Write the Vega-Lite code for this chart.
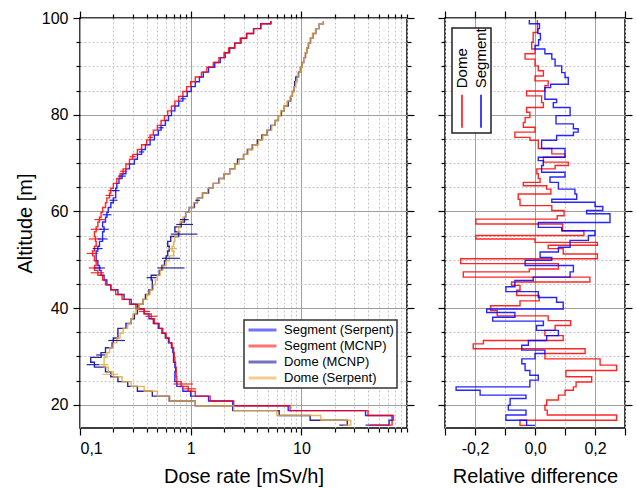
{
  "$schema": "https://vega.github.io/schema/vega-lite/v6.json",
  "background": "white",
  "padding": {"left": 14, "top": 9, "right": 3, "bottom": 0},
  "config": {
    "font": "Liberation Sans",
    "view": {"stroke": "#000", "strokeWidth": 1.5},
    "axis": {"domain": false, "tickColor": "#000", "tickWidth": 1.2, "labelFont": "Liberation Sans", "labelFontSize": 16, "labelColor": "#000", "titleFont": "Liberation Sans", "titleFontSize": 20, "titleFontWeight": "normal", "titleColor": "#000", "gridColor": "#a0a0a0", "gridWidth": 1, "labelPadding": 5},
    "legend": {"labelFont": "Liberation Sans", "labelColor": "#000"}
  },
  "datasets": {
    "dose": [
      {"a": 15.8, "Segment (Serpent)": 38, "Segment (MCNP)": 41, "Dome (MCNP)": 22, "Dome (Serpent)": 24},
      {"a": 15.8, "Segment (Serpent)": 62, "Segment (MCNP)": 66, "Dome (MCNP)": 26, "Dome (Serpent)": 28},
      {"a": 16.8, "Segment (Serpent)": 66, "Segment (MCNP)": 68, "Dome (MCNP)": 12, "Dome (Serpent)": 15},
      {"a": 17.8, "Segment (Serpent)": 38, "Segment (MCNP)": 40, "Dome (MCNP)": 6.3, "Dome (Serpent)": 6.0},
      {"a": 18.8, "Segment (Serpent)": 7.6, "Segment (MCNP)": 7.9, "Dome (MCNP)": 2.4, "Dome (Serpent)": 2.45},
      {"a": 19.8, "Segment (Serpent)": 2.4, "Segment (MCNP)": 2.45, "Dome (MCNP)": 1.1, "Dome (Serpent)": 1.1},
      {"a": 20.8, "Segment (Serpent)": 1.45, "Segment (MCNP)": 1.5, "Dome (MCNP)": 0.64, "Dome (Serpent)": 0.65},
      {"a": 21.8, "Segment (Serpent)": 1.0, "Segment (MCNP)": 1.1, "Dome (MCNP)": 0.45, "Dome (Serpent)": 0.5},
      {"a": 22.8, "Segment (Serpent)": 0.85, "Segment (MCNP)": 0.95, "Dome (MCNP)": 0.33, "Dome (Serpent)": 0.38},
      {"a": 23.8, "Segment (Serpent)": 0.75, "Segment (MCNP)": 0.82, "Dome (MCNP)": 0.27, "Dome (Serpent)": 0.29},
      {"a": 24.8, "Segment (Serpent)": 0.72, "Segment (MCNP)": 0.75, "Dome (MCNP)": 0.22, "Dome (Serpent)": 0.24},
      {"a": 25.8, "Segment (Serpent)": 0.72, "Segment (MCNP)": 0.74, "Dome (MCNP)": 0.19, "Dome (Serpent)": 0.2},
      {"a": 26.8, "Segment (Serpent)": 0.73, "Segment (MCNP)": 0.74, "Dome (MCNP)": 0.17, "Dome (Serpent)": 0.18},
      {"a": 27.8, "Segment (Serpent)": 0.72, "Segment (MCNP)": 0.73, "Dome (MCNP)": 0.135, "Dome (Serpent)": 0.165},
      {"a": 28.8, "Segment (Serpent)": 0.7, "Segment (MCNP)": 0.72, "Dome (MCNP)": 0.125, "Dome (Serpent)": 0.165},
      {"a": 29.8, "Segment (Serpent)": 0.7, "Segment (MCNP)": 0.71, "Dome (MCNP)": 0.155, "Dome (Serpent)": 0.175},
      {"a": 30.8, "Segment (Serpent)": 0.69, "Segment (MCNP)": 0.7, "Dome (MCNP)": 0.17, "Dome (Serpent)": 0.185},
      {"a": 31.8, "Segment (Serpent)": 0.67, "Segment (MCNP)": 0.68, "Dome (MCNP)": 0.195, "Dome (Serpent)": 0.2},
      {"a": 32.8, "Segment (Serpent)": 0.63, "Segment (MCNP)": 0.64, "Dome (MCNP)": 0.2, "Dome (Serpent)": 0.215},
      {"a": 33.8, "Segment (Serpent)": 0.59, "Segment (MCNP)": 0.6, "Dome (MCNP)": 0.22, "Dome (Serpent)": 0.23},
      {"a": 34.8, "Segment (Serpent)": 0.55, "Segment (MCNP)": 0.56, "Dome (MCNP)": 0.22, "Dome (Serpent)": 0.245},
      {"a": 35.8, "Segment (Serpent)": 0.51, "Segment (MCNP)": 0.52, "Dome (MCNP)": 0.26, "Dome (Serpent)": 0.27},
      {"a": 36.8, "Segment (Serpent)": 0.46, "Segment (MCNP)": 0.47, "Dome (MCNP)": 0.29, "Dome (Serpent)": 0.29},
      {"a": 37.8, "Segment (Serpent)": 0.42, "Segment (MCNP)": 0.44, "Dome (MCNP)": 0.31, "Dome (Serpent)": 0.3},
      {"a": 38.8, "Segment (Serpent)": 0.38, "Segment (MCNP)": 0.38, "Dome (MCNP)": 0.33, "Dome (Serpent)": 0.32},
      {"a": 39.8, "Segment (Serpent)": 0.33, "Segment (MCNP)": 0.32, "Dome (MCNP)": 0.34, "Dome (Serpent)": 0.34},
      {"a": 40.8, "Segment (Serpent)": 0.29, "Segment (MCNP)": 0.28, "Dome (MCNP)": 0.37, "Dome (Serpent)": 0.37},
      {"a": 41.8, "Segment (Serpent)": 0.25, "Segment (MCNP)": 0.24, "Dome (MCNP)": 0.39, "Dome (Serpent)": 0.4},
      {"a": 42.8, "Segment (Serpent)": 0.22, "Segment (MCNP)": 0.21, "Dome (MCNP)": 0.42, "Dome (Serpent)": 0.43},
      {"a": 43.8, "Segment (Serpent)": 0.19, "Segment (MCNP)": 0.19, "Dome (MCNP)": 0.45, "Dome (Serpent)": 0.46},
      {"a": 44.8, "Segment (Serpent)": 0.175, "Segment (MCNP)": 0.17, "Dome (MCNP)": 0.45, "Dome (Serpent)": 0.48},
      {"a": 45.8, "Segment (Serpent)": 0.165, "Segment (MCNP)": 0.16, "Dome (MCNP)": 0.44, "Dome (Serpent)": 0.5},
      {"a": 46.8, "Segment (Serpent)": 0.155, "Segment (MCNP)": 0.145, "Dome (MCNP)": 0.52, "Dome (Serpent)": 0.53},
      {"a": 47.8, "Segment (Serpent)": 0.15, "Segment (MCNP)": 0.135, "Dome (MCNP)": 0.55, "Dome (Serpent)": 0.56},
      {"a": 48.8, "Segment (Serpent)": 0.145, "Segment (MCNP)": 0.14, "Dome (MCNP)": 0.58, "Dome (Serpent)": 0.6},
      {"a": 49.8, "Segment (Serpent)": 0.14, "Segment (MCNP)": 0.135, "Dome (MCNP)": 0.6, "Dome (Serpent)": 0.64},
      {"a": 50.8, "Segment (Serpent)": 0.14, "Segment (MCNP)": 0.13, "Dome (MCNP)": 0.62, "Dome (Serpent)": 0.7},
      {"a": 51.8, "Segment (Serpent)": 0.145, "Segment (MCNP)": 0.135, "Dome (MCNP)": 0.64, "Dome (Serpent)": 0.68},
      {"a": 52.8, "Segment (Serpent)": 0.15, "Segment (MCNP)": 0.14, "Dome (MCNP)": 0.62, "Dome (Serpent)": 0.7},
      {"a": 53.8, "Segment (Serpent)": 0.16, "Segment (MCNP)": 0.138, "Dome (MCNP)": 0.66, "Dome (Serpent)": 0.72},
      {"a": 54.8, "Segment (Serpent)": 0.16, "Segment (MCNP)": 0.135, "Dome (MCNP)": 0.78, "Dome (Serpent)": 0.76},
      {"a": 55.8, "Segment (Serpent)": 0.165, "Segment (MCNP)": 0.14, "Dome (MCNP)": 0.72, "Dome (Serpent)": 0.78},
      {"a": 56.8, "Segment (Serpent)": 0.16, "Segment (MCNP)": 0.145, "Dome (MCNP)": 0.82, "Dome (Serpent)": 0.8},
      {"a": 57.8, "Segment (Serpent)": 0.17, "Segment (MCNP)": 0.15, "Dome (MCNP)": 0.88, "Dome (Serpent)": 0.85},
      {"a": 58.8, "Segment (Serpent)": 0.175, "Segment (MCNP)": 0.155, "Dome (MCNP)": 0.9, "Dome (Serpent)": 0.9},
      {"a": 59.8, "Segment (Serpent)": 0.18, "Segment (MCNP)": 0.16, "Dome (MCNP)": 0.97, "Dome (Serpent)": 0.98},
      {"a": 60.8, "Segment (Serpent)": 0.19, "Segment (MCNP)": 0.17, "Dome (MCNP)": 1.08, "Dome (Serpent)": 1.06},
      {"a": 61.8, "Segment (Serpent)": 0.2, "Segment (MCNP)": 0.175, "Dome (MCNP)": 1.15, "Dome (Serpent)": 1.15},
      {"a": 62.8, "Segment (Serpent)": 0.21, "Segment (MCNP)": 0.185, "Dome (MCNP)": 1.28, "Dome (Serpent)": 1.27},
      {"a": 63.8, "Segment (Serpent)": 0.21, "Segment (MCNP)": 0.19, "Dome (MCNP)": 1.45, "Dome (Serpent)": 1.42},
      {"a": 64.8, "Segment (Serpent)": 0.215, "Segment (MCNP)": 0.2, "Dome (MCNP)": 1.6, "Dome (Serpent)": 1.6},
      {"a": 65.8, "Segment (Serpent)": 0.225, "Segment (MCNP)": 0.215, "Dome (MCNP)": 1.8, "Dome (Serpent)": 1.82},
      {"a": 66.8, "Segment (Serpent)": 0.24, "Segment (MCNP)": 0.23, "Dome (MCNP)": 2.0, "Dome (Serpent)": 2.0},
      {"a": 67.8, "Segment (Serpent)": 0.26, "Segment (MCNP)": 0.245, "Dome (MCNP)": 2.25, "Dome (Serpent)": 2.25},
      {"a": 68.8, "Segment (Serpent)": 0.28, "Segment (MCNP)": 0.26, "Dome (MCNP)": 2.5, "Dome (Serpent)": 2.5},
      {"a": 69.8, "Segment (Serpent)": 0.31, "Segment (MCNP)": 0.28, "Dome (MCNP)": 2.65, "Dome (Serpent)": 2.75},
      {"a": 70.8, "Segment (Serpent)": 0.33, "Segment (MCNP)": 0.3, "Dome (MCNP)": 3.0, "Dome (Serpent)": 3.0},
      {"a": 71.8, "Segment (Serpent)": 0.36, "Segment (MCNP)": 0.33, "Dome (MCNP)": 3.25, "Dome (Serpent)": 3.3},
      {"a": 72.8, "Segment (Serpent)": 0.39, "Segment (MCNP)": 0.36, "Dome (MCNP)": 3.6, "Dome (Serpent)": 3.65},
      {"a": 73.8, "Segment (Serpent)": 0.43, "Segment (MCNP)": 0.4, "Dome (MCNP)": 4.0, "Dome (Serpent)": 4.1},
      {"a": 74.8, "Segment (Serpent)": 0.47, "Segment (MCNP)": 0.43, "Dome (MCNP)": 4.4, "Dome (Serpent)": 4.5},
      {"a": 75.8, "Segment (Serpent)": 0.51, "Segment (MCNP)": 0.46, "Dome (MCNP)": 4.9, "Dome (Serpent)": 4.9},
      {"a": 76.8, "Segment (Serpent)": 0.54, "Segment (MCNP)": 0.5, "Dome (MCNP)": 5.3, "Dome (Serpent)": 5.4},
      {"a": 77.8, "Segment (Serpent)": 0.59, "Segment (MCNP)": 0.54, "Dome (MCNP)": 5.8, "Dome (Serpent)": 5.8},
      {"a": 78.8, "Segment (Serpent)": 0.63, "Segment (MCNP)": 0.58, "Dome (MCNP)": 6.2, "Dome (Serpent)": 6.2},
      {"a": 79.8, "Segment (Serpent)": 0.67, "Segment (MCNP)": 0.62, "Dome (MCNP)": 6.6, "Dome (Serpent)": 6.5},
      {"a": 80.8, "Segment (Serpent)": 0.72, "Segment (MCNP)": 0.67, "Dome (MCNP)": 7.0, "Dome (Serpent)": 7.0},
      {"a": 81.8, "Segment (Serpent)": 0.78, "Segment (MCNP)": 0.72, "Dome (MCNP)": 7.6, "Dome (Serpent)": 7.4},
      {"a": 82.8, "Segment (Serpent)": 0.85, "Segment (MCNP)": 0.78, "Dome (MCNP)": 8.0, "Dome (Serpent)": 7.9},
      {"a": 83.8, "Segment (Serpent)": 0.93, "Segment (MCNP)": 0.85, "Dome (MCNP)": 8.3, "Dome (Serpent)": 8.3},
      {"a": 84.8, "Segment (Serpent)": 1.01, "Segment (MCNP)": 0.92, "Dome (MCNP)": 8.6, "Dome (Serpent)": 8.6},
      {"a": 85.8, "Segment (Serpent)": 1.1, "Segment (MCNP)": 1.0, "Dome (MCNP)": 8.7, "Dome (Serpent)": 8.9},
      {"a": 86.8, "Segment (Serpent)": 1.2, "Segment (MCNP)": 1.1, "Dome (MCNP)": 8.9, "Dome (Serpent)": 9.2},
      {"a": 87.8, "Segment (Serpent)": 1.3, "Segment (MCNP)": 1.25, "Dome (MCNP)": 9.4, "Dome (Serpent)": 9.5},
      {"a": 88.8, "Segment (Serpent)": 1.45, "Segment (MCNP)": 1.4, "Dome (MCNP)": 9.8, "Dome (Serpent)": 9.8},
      {"a": 89.8, "Segment (Serpent)": 1.65, "Segment (MCNP)": 1.6, "Dome (MCNP)": 10.2, "Dome (Serpent)": 10.2},
      {"a": 90.8, "Segment (Serpent)": 1.85, "Segment (MCNP)": 1.8, "Dome (MCNP)": 10.5, "Dome (Serpent)": 10.5},
      {"a": 91.8, "Segment (Serpent)": 2.05, "Segment (MCNP)": 2.0, "Dome (MCNP)": 10.9, "Dome (Serpent)": 10.8},
      {"a": 92.8, "Segment (Serpent)": 2.25, "Segment (MCNP)": 2.2, "Dome (MCNP)": 11.2, "Dome (Serpent)": 11.2},
      {"a": 93.8, "Segment (Serpent)": 2.5, "Segment (MCNP)": 2.5, "Dome (MCNP)": 11.6, "Dome (Serpent)": 11.5},
      {"a": 94.8, "Segment (Serpent)": 2.85, "Segment (MCNP)": 2.8, "Dome (MCNP)": 12.1, "Dome (Serpent)": 12.0},
      {"a": 95.8, "Segment (Serpent)": 3.2, "Segment (MCNP)": 3.2, "Dome (MCNP)": 12.7, "Dome (Serpent)": 12.6},
      {"a": 96.8, "Segment (Serpent)": 3.7, "Segment (MCNP)": 3.7, "Dome (MCNP)": 13.5, "Dome (Serpent)": 13.4},
      {"a": 97.8, "Segment (Serpent)": 4.3, "Segment (MCNP)": 4.3, "Dome (MCNP)": 14.5, "Dome (Serpent)": 14.5},
      {"a": 98.8, "Segment (Serpent)": 5.3, "Segment (MCNP)": 5.3, "Dome (MCNP)": 15.8, "Dome (Serpent)": 15.8},
      {"a": 99.4, "Segment (Serpent)": 5.3, "Segment (MCNP)": 5.3, "Dome (MCNP)": 15.8, "Dome (Serpent)": 15.8}
    ],
    "err": [
      {"s": "Segment (MCNP)", "a": 23.3, "lo": 0.86, "hi": 1.12},
      {"s": "Segment (MCNP)", "a": 24.3, "lo": 0.7, "hi": 1.05},
      {"s": "Segment (MCNP)", "a": 38.3, "lo": 0.39, "hi": 0.5},
      {"s": "Segment (MCNP)", "a": 39.3, "lo": 0.34, "hi": 0.43},
      {"s": "Segment (MCNP)", "a": 47.3, "lo": 0.125, "hi": 0.165},
      {"s": "Segment (MCNP)", "a": 48.3, "lo": 0.12, "hi": 0.155},
      {"s": "Segment (MCNP)", "a": 51.3, "lo": 0.115, "hi": 0.145},
      {"s": "Segment (MCNP)", "a": 54.3, "lo": 0.12, "hi": 0.155},
      {"s": "Segment (MCNP)", "a": 56.3, "lo": 0.125, "hi": 0.158},
      {"s": "Segment (MCNP)", "a": 58.3, "lo": 0.135, "hi": 0.168},
      {"s": "Segment (MCNP)", "a": 63.3, "lo": 0.17, "hi": 0.2},
      {"s": "Segment (MCNP)", "a": 64.3, "lo": 0.18, "hi": 0.215},
      {"s": "Segment (MCNP)", "a": 68.3, "lo": 0.23, "hi": 0.265},
      {"s": "Segment (MCNP)", "a": 71.3, "lo": 0.28, "hi": 0.32},
      {"s": "Segment (MCNP)", "a": 75.3, "lo": 0.41, "hi": 0.455},
      {"s": "Segment (Serpent)", "a": 48.3, "lo": 0.135, "hi": 0.168},
      {"s": "Segment (Serpent)", "a": 52.3, "lo": 0.13, "hi": 0.16},
      {"s": "Segment (Serpent)", "a": 54.3, "lo": 0.145, "hi": 0.178},
      {"s": "Segment (Serpent)", "a": 56.3, "lo": 0.15, "hi": 0.182},
      {"s": "Segment (Serpent)", "a": 59.3, "lo": 0.16, "hi": 0.192},
      {"s": "Segment (Serpent)", "a": 62.3, "lo": 0.185, "hi": 0.218},
      {"s": "Segment (Serpent)", "a": 64.3, "lo": 0.195, "hi": 0.228},
      {"s": "Segment (Serpent)", "a": 67.3, "lo": 0.22, "hi": 0.26},
      {"s": "Segment (Serpent)", "a": 72.3, "lo": 0.34, "hi": 0.38},
      {"s": "Segment (Serpent)", "a": 77.3, "lo": 0.51, "hi": 0.57},
      {"s": "Segment (Serpent)", "a": 83.3, "lo": 0.81, "hi": 0.9},
      {"s": "Dome (MCNP)", "a": 28.3, "lo": 0.115, "hi": 0.15},
      {"s": "Dome (MCNP)", "a": 30.3, "lo": 0.14, "hi": 0.17},
      {"s": "Dome (MCNP)", "a": 33.3, "lo": 0.18, "hi": 0.255},
      {"s": "Dome (MCNP)", "a": 46.3, "lo": 0.4, "hi": 0.49},
      {"s": "Dome (MCNP)", "a": 48.3, "lo": 0.5, "hi": 0.88},
      {"s": "Dome (MCNP)", "a": 50.3, "lo": 0.55, "hi": 0.8},
      {"s": "Dome (MCNP)", "a": 55.3, "lo": 0.66, "hi": 1.15},
      {"s": "Dome (MCNP)", "a": 57.3, "lo": 0.74, "hi": 1.05},
      {"s": "Dome (MCNP)", "a": 58.3, "lo": 0.8, "hi": 0.96},
      {"s": "Dome (MCNP)", "a": 62.3, "lo": 1.1, "hi": 1.21},
      {"s": "Dome (Serpent)", "a": 26.3, "lo": 0.16, "hi": 0.22},
      {"s": "Dome (Serpent)", "a": 28.3, "lo": 0.15, "hi": 0.18},
      {"s": "Dome (Serpent)", "a": 52.3, "lo": 0.62, "hi": 0.75}
    ],
    "rel": [
      {"s": "Dome", "a": 15.75, "v": -0.028},
      {"s": "Dome", "a": 15.75, "v": -0.05},
      {"s": "Dome", "a": 16.8, "v": 0.272},
      {"s": "Dome", "a": 17.9, "v": 0.041},
      {"s": "Dome", "a": 18.9, "v": 0.033},
      {"s": "Dome", "a": 19.9, "v": 0.039},
      {"s": "Dome", "a": 21.0, "v": 0.078},
      {"s": "Dome", "a": 22.0, "v": 0.1},
      {"s": "Dome", "a": 23.0, "v": 0.128},
      {"s": "Dome", "a": 23.7, "v": 0.137},
      {"s": "Dome", "a": 24.7, "v": 0.189},
      {"s": "Dome", "a": 25.8, "v": 0.103},
      {"s": "Dome", "a": 27.1, "v": 0.272},
      {"s": "Dome", "a": 28.2, "v": 0.217},
      {"s": "Dome", "a": 29.5, "v": 0.033},
      {"s": "Dome", "a": 30.6, "v": 0.167},
      {"s": "Dome", "a": 31.6, "v": -0.206},
      {"s": "Dome", "a": 32.6, "v": -0.172},
      {"s": "Dome", "a": 33.3, "v": 0.094},
      {"s": "Dome", "a": 34.3, "v": 0.033},
      {"s": "Dome", "a": 35.4, "v": 0.067},
      {"s": "Dome", "a": 36.4, "v": 0.119},
      {"s": "Dome", "a": 37.4, "v": 0.044},
      {"s": "Dome", "a": 38.4, "v": -0.126},
      {"s": "Dome", "a": 39.5, "v": -0.148},
      {"s": "Dome", "a": 40.5, "v": -0.05},
      {"s": "Dome", "a": 41.5, "v": 0.014},
      {"s": "Dome", "a": 42.6, "v": -0.061},
      {"s": "Dome", "a": 43.7, "v": -0.05},
      {"s": "Dome", "a": 44.7, "v": -0.078},
      {"s": "Dome", "a": 45.4, "v": 0.183},
      {"s": "Dome", "a": 46.4, "v": -0.239},
      {"s": "Dome", "a": 47.5, "v": -0.019},
      {"s": "Dome", "a": 48.1, "v": 0.078},
      {"s": "Dome", "a": 49.2, "v": -0.248},
      {"s": "Dome", "a": 50.2, "v": 0.208},
      {"s": "Dome", "a": 51.2, "v": 0.094},
      {"s": "Dome", "a": 52.3, "v": 0.044},
      {"s": "Dome", "a": 53.0, "v": 0.208},
      {"s": "Dome", "a": 53.6, "v": 0.0},
      {"s": "Dome", "a": 54.3, "v": -0.197},
      {"s": "Dome", "a": 55.0, "v": 0.163},
      {"s": "Dome", "a": 56.0, "v": 0.092},
      {"s": "Dome", "a": 57.4, "v": -0.197},
      {"s": "Dome", "a": 58.4, "v": 0.074},
      {"s": "Dome", "a": 59.1, "v": 0.097},
      {"s": "Dome", "a": 60.2, "v": 0.056},
      {"s": "Dome", "a": 61.2, "v": -0.05},
      {"s": "Dome", "a": 62.5, "v": -0.056},
      {"s": "Dome", "a": 63.6, "v": 0.053},
      {"s": "Dome", "a": 64.6, "v": 0.039},
      {"s": "Dome", "a": 65.3, "v": -0.039},
      {"s": "Dome", "a": 66.0, "v": 0.017},
      {"s": "Dome", "a": 66.8, "v": 0.011},
      {"s": "Dome", "a": 67.8, "v": 0.006},
      {"s": "Dome", "a": 68.8, "v": 0.067},
      {"s": "Dome", "a": 69.5, "v": 0.111},
      {"s": "Dome", "a": 70.2, "v": 0.028},
      {"s": "Dome", "a": 71.2, "v": 0.1},
      {"s": "Dome", "a": 71.9, "v": 0.056},
      {"s": "Dome", "a": 73.0, "v": 0.011},
      {"s": "Dome", "a": 74.7, "v": -0.017},
      {"s": "Dome", "a": 75.3, "v": -0.067},
      {"s": "Dome", "a": 76.4, "v": 0.0},
      {"s": "Dome", "a": 77.4, "v": -0.039},
      {"s": "Dome", "a": 78.4, "v": -0.033},
      {"s": "Dome", "a": 79.4, "v": -0.017},
      {"s": "Dome", "a": 80.5, "v": -0.028},
      {"s": "Dome", "a": 81.5, "v": 0.028},
      {"s": "Dome", "a": 82.5, "v": 0.022},
      {"s": "Dome", "a": 83.9, "v": -0.028},
      {"s": "Dome", "a": 84.9, "v": 0.033},
      {"s": "Dome", "a": 86.0, "v": 0.044},
      {"s": "Dome", "a": 87.0, "v": 0.0},
      {"s": "Dome", "a": 88.0, "v": 0.028},
      {"s": "Dome", "a": 89.1, "v": 0.011},
      {"s": "Dome", "a": 90.1, "v": 0.0},
      {"s": "Dome", "a": 91.5, "v": -0.033},
      {"s": "Dome", "a": 92.6, "v": 0.0},
      {"s": "Dome", "a": 93.6, "v": -0.011},
      {"s": "Dome", "a": 95.0, "v": -0.006},
      {"s": "Dome", "a": 97.0, "v": 0.008},
      {"s": "Dome", "a": 99.6, "v": 0.008},
      {"s": "Segment", "a": 15.75, "v": 0.0},
      {"s": "Segment", "a": 15.75, "v": -0.028},
      {"s": "Segment", "a": 16.8, "v": -0.097},
      {"s": "Segment", "a": 17.9, "v": -0.03},
      {"s": "Segment", "a": 18.9, "v": -0.089},
      {"s": "Segment", "a": 19.9, "v": -0.083},
      {"s": "Segment", "a": 21.3, "v": -0.03},
      {"s": "Segment", "a": 22.0, "v": -0.183},
      {"s": "Segment", "a": 23.0, "v": -0.263},
      {"s": "Segment", "a": 23.7, "v": -0.017},
      {"s": "Segment", "a": 25.1, "v": 0.011},
      {"s": "Segment", "a": 26.1, "v": -0.017},
      {"s": "Segment", "a": 27.1, "v": -0.033},
      {"s": "Segment", "a": 28.5, "v": -0.044},
      {"s": "Segment", "a": 29.5, "v": 0.0},
      {"s": "Segment", "a": 30.6, "v": 0.033},
      {"s": "Segment", "a": 31.3, "v": -0.044},
      {"s": "Segment", "a": 32.3, "v": -0.022},
      {"s": "Segment", "a": 33.3, "v": 0.039},
      {"s": "Segment", "a": 34.3, "v": 0.078},
      {"s": "Segment", "a": 35.4, "v": 0.005},
      {"s": "Segment", "a": 36.4, "v": 0.028},
      {"s": "Segment", "a": 37.3, "v": -0.141},
      {"s": "Segment", "a": 38.1, "v": -0.067},
      {"s": "Segment", "a": 39.1, "v": -0.161},
      {"s": "Segment", "a": 39.8, "v": 0.094},
      {"s": "Segment", "a": 41.2, "v": 0.072},
      {"s": "Segment", "a": 42.2, "v": 0.011},
      {"s": "Segment", "a": 43.4, "v": -0.097},
      {"s": "Segment", "a": 44.4, "v": -0.067},
      {"s": "Segment", "a": 45.7, "v": -0.006},
      {"s": "Segment", "a": 46.4, "v": 0.117},
      {"s": "Segment", "a": 47.5, "v": 0.128},
      {"s": "Segment", "a": 48.8, "v": -0.033},
      {"s": "Segment", "a": 49.9, "v": 0.056},
      {"s": "Segment", "a": 50.5, "v": 0.017},
      {"s": "Segment", "a": 51.6, "v": 0.078},
      {"s": "Segment", "a": 52.6, "v": 0.117},
      {"s": "Segment", "a": 54.0, "v": 0.178},
      {"s": "Segment", "a": 55.0, "v": 0.2},
      {"s": "Segment", "a": 56.0, "v": 0.089},
      {"s": "Segment", "a": 56.7, "v": 0.011},
      {"s": "Segment", "a": 57.7, "v": 0.25},
      {"s": "Segment", "a": 59.5, "v": 0.172},
      {"s": "Segment", "a": 60.2, "v": 0.226},
      {"s": "Segment", "a": 61.0, "v": 0.2},
      {"s": "Segment", "a": 61.9, "v": 0.056},
      {"s": "Segment", "a": 62.5, "v": 0.139},
      {"s": "Segment", "a": 63.6, "v": 0.133},
      {"s": "Segment", "a": 64.6, "v": 0.078},
      {"s": "Segment", "a": 66.0, "v": 0.05},
      {"s": "Segment", "a": 67.1, "v": 0.1},
      {"s": "Segment", "a": 68.1, "v": 0.022},
      {"s": "Segment", "a": 69.5, "v": 0.028},
      {"s": "Segment", "a": 70.5, "v": 0.011},
      {"s": "Segment", "a": 71.2, "v": 0.1},
      {"s": "Segment", "a": 73.0, "v": 0.022},
      {"s": "Segment", "a": 74.7, "v": 0.072},
      {"s": "Segment", "a": 75.7, "v": 0.128},
      {"s": "Segment", "a": 76.4, "v": 0.144},
      {"s": "Segment", "a": 77.1, "v": 0.128},
      {"s": "Segment", "a": 78.1, "v": 0.07},
      {"s": "Segment", "a": 79.8, "v": 0.117},
      {"s": "Segment", "a": 81.5, "v": 0.061},
      {"s": "Segment", "a": 82.5, "v": 0.072},
      {"s": "Segment", "a": 83.2, "v": 0.033},
      {"s": "Segment", "a": 85.6, "v": 0.052},
      {"s": "Segment", "a": 86.3, "v": 0.111},
      {"s": "Segment", "a": 87.7, "v": 0.1},
      {"s": "Segment", "a": 88.7, "v": 0.089},
      {"s": "Segment", "a": 90.1, "v": 0.067},
      {"s": "Segment", "a": 91.5, "v": 0.056},
      {"s": "Segment", "a": 92.6, "v": 0.033},
      {"s": "Segment", "a": 93.6, "v": 0.0},
      {"s": "Segment", "a": 94.3, "v": 0.012},
      {"s": "Segment", "a": 95.5, "v": 0.018},
      {"s": "Segment", "a": 96.8, "v": 0.01},
      {"s": "Segment", "a": 97.8, "v": 0.015},
      {"s": "Segment", "a": 98.8, "v": -0.019},
      {"s": "Segment", "a": 99.6, "v": -0.019}
    ]
  },
  "hconcat": [
    {
      "width": 327,
      "height": 410,
      "layer": [
        {
          "data": {"name": "dose"},
          "transform": [{"fold": ["Segment (Serpent)", "Segment (MCNP)", "Dome (MCNP)", "Dome (Serpent)"], "as": ["s", "v"]}],
          "mark": {"type": "line", "interpolate": "step-before", "order": false, "strokeWidth": 1.4, "opacity": 0.85},
          "encoding": {
            "x": {"field": "v", "type": "quantitative", "scale": {"type": "log", "domain": [0.1, 90], "nice": false},
              "axis": {"orient": "bottom", "values": [0.1, 1, 10], "labelExpr": "replace('' + datum.value, '.', ',')", "grid": true, "tickSize": 7, "title": "Dose rate [mSv/h]", "titlePadding": 10}},
            "y": {"field": "a", "type": "quantitative", "scale": {"domain": [15.2, 100], "nice": false, "zero": false},
              "axis": {"orient": "left", "values": [20, 40, 60, 80, 100], "grid": true, "tickSize": 7, "title": "Altitude [m]", "titlePadding": 6}},
            "color": {"field": "s", "type": "nominal",
              "scale": {"domain": ["Segment (Serpent)", "Segment (MCNP)", "Dome (MCNP)", "Dome (Serpent)"], "range": ["#0000ff", "#ff0000", "#000090", "#e8a735"]},
              "legend": {"title": null, "orient": "none", "legendX": 164, "legendY": 302, "fillColor": "white", "strokeColor": "#333", "padding": 3, "labelFontSize": 13, "symbolType": "stroke", "symbolSize": 784, "symbolStrokeWidth": 3, "symbolOpacity": 0.55, "labelOffset": 6, "clipHeight": 14, "rowPadding": 2,
                "encode": {"legend": {"update": {"strokeWidth": {"value": 1.5}}}}}}
          }
        },
        {
          "data": {"name": "err"},
          "mark": {"type": "rule", "strokeWidth": 1.2, "opacity": 0.85},
          "encoding": {
            "x": {"field": "lo", "type": "quantitative", "scale": {"type": "log", "domain": [0.1, 90], "nice": false},
              "axis": {"orient": "bottom", "values": [0.2, 0.3, 0.4, 0.5, 0.6, 0.7, 0.8, 0.9, 2, 3, 4, 5, 6, 7, 8, 9, 20, 30, 40, 50, 60, 70, 80, 90], "grid": true, "gridDash": [2, 2], "gridColor": "#c4c4c4", "labels": false, "tickSize": 4, "title": null}},
            "x2": {"field": "hi"},
            "y": {"field": "a", "type": "quantitative", "scale": {"domain": [15.2, 100], "nice": false, "zero": false},
              "axis": {"orient": "left", "values": [25, 30, 35, 45, 50, 55, 65, 70, 75, 85, 90, 95], "grid": true, "gridDash": [2, 2], "gridColor": "#c4c4c4", "labels": false, "tickSize": 4, "title": null}},
            "color": {"field": "s", "type": "nominal", "legend": null}
          }
        },
        {
          "data": {"name": "err"},
          "mark": {"type": "point", "opacity": 0},
          "encoding": {
            "x": {"field": "lo", "type": "quantitative", "scale": {"type": "log", "domain": [0.1, 90], "nice": false},
              "axis": {"orient": "top", "values": [0.1, 1, 10], "grid": false, "labels": false, "tickSize": 7, "title": null}},
            "y": {"field": "a", "type": "quantitative", "scale": {"domain": [15.2, 100], "nice": false, "zero": false},
              "axis": {"orient": "right", "values": [20, 40, 60, 80, 100], "grid": false, "labels": false, "tickSize": 7, "title": null}}
          }
        },
        {
          "data": {"name": "err"},
          "mark": {"type": "point", "opacity": 0},
          "encoding": {
            "x": {"field": "lo", "type": "quantitative", "scale": {"type": "log", "domain": [0.1, 90], "nice": false},
              "axis": {"orient": "top", "values": [0.2, 0.3, 0.4, 0.5, 0.6, 0.7, 0.8, 0.9, 2, 3, 4, 5, 6, 7, 8, 9, 20, 30, 40, 50, 60, 70, 80, 90], "grid": false, "labels": false, "tickSize": 4, "title": null}},
            "y": {"field": "a", "type": "quantitative", "scale": {"domain": [15.2, 100], "nice": false, "zero": false},
              "axis": {"orient": "right", "values": [25, 30, 35, 45, 50, 55, 65, 70, 75, 85, 90, 95], "grid": false, "labels": false, "tickSize": 4, "title": null}}
          }
        }
      ],
      "resolve": {"axis": {"x": "independent", "y": "independent"}}
    },
    {
      "width": 180,
      "height": 410,
      "layer": [
        {
          "data": {"name": "rel"},
          "mark": {"type": "line", "interpolate": "step-before", "order": false, "strokeWidth": 1.4, "opacity": 0.85},
          "encoding": {
            "x": {"field": "v", "type": "quantitative", "scale": {"domain": [-0.3, 0.3], "nice": false, "zero": false},
              "axis": {"orient": "bottom", "values": [-0.2, 0, 0.2], "labelExpr": "(datum.value < 0 ? '-' : '') + replace(format(abs(datum.value), '.1f'), '.', ',')", "grid": true, "tickSize": 7, "title": "Relative difference", "titlePadding": 10}},
            "y": {"field": "a", "type": "quantitative", "scale": {"domain": [15.2, 100], "nice": false, "zero": false},
              "axis": {"orient": "left", "values": [20, 40, 60, 80, 100], "grid": true, "labels": false, "tickSize": 7, "title": null}},
            "color": {"field": "s", "type": "nominal",
              "scale": {"domain": ["Dome", "Segment"], "range": ["#ff0000", "#0000ff"]},
              "legend": {"title": null, "orient": "none", "legendX": 7, "legendY": 10, "direction": "horizontal", "fillColor": "white", "strokeColor": "#222", "padding": 2, "labelFontSize": 15, "symbolType": "stroke", "symbolSize": 100, "symbolStrokeWidth": 1.5, "symbolOpacity": 1, "columnPadding": 3,
                "encode": {
                  "symbols": {"update": {"angle": {"value": 90}, "size": {"value": 1089}, "x": {"value": 8}, "y": {"value": 81}}},
                  "labels": {"update": {"angle": {"value": -90}, "x": {"value": 8}, "y": {"value": 58}, "align": {"value": "left"}, "baseline": {"value": "middle"}}},
                  "legend": {"update": {"strokeWidth": {"value": 1.5}}}}}}
          }
        },
        {
          "data": {"name": "rel"},
          "mark": {"type": "point", "opacity": 0},
          "encoding": {
            "x": {"field": "v", "type": "quantitative", "scale": {"domain": [-0.3, 0.3], "nice": false, "zero": false},
              "axis": {"orient": "bottom", "values": [-0.3, -0.1, 0.1, 0.3], "grid": true, "gridDash": [2, 2], "gridColor": "#c4c4c4", "labels": false, "tickSize": 7, "title": null}},
            "y": {"field": "a", "type": "quantitative", "scale": {"domain": [15.2, 100], "nice": false, "zero": false},
              "axis": {"orient": "left", "values": [25, 30, 35, 45, 50, 55, 65, 70, 75, 85, 90, 95], "grid": true, "gridDash": [2, 2], "gridColor": "#c4c4c4", "labels": false, "tickSize": 4, "title": null}}
          }
        },
        {
          "data": {"name": "rel"},
          "mark": {"type": "point", "opacity": 0},
          "encoding": {
            "x": {"field": "v", "type": "quantitative", "scale": {"domain": [-0.3, 0.3], "nice": false, "zero": false},
              "axis": {"orient": "top", "values": [-0.3, -0.2, -0.1, 0, 0.1, 0.2, 0.3], "grid": false, "labels": false, "tickSize": 7, "title": null}},
            "y": {"field": "a", "type": "quantitative", "scale": {"domain": [15.2, 100], "nice": false, "zero": false},
              "axis": {"orient": "right", "values": [20, 40, 60, 80, 100], "grid": false, "labels": false, "tickSize": 7, "title": null}}
          }
        },
        {
          "data": {"name": "rel"},
          "mark": {"type": "point", "opacity": 0},
          "encoding": {
            "x": {"field": "v", "type": "quantitative", "scale": {"domain": [-0.3, 0.3], "nice": false, "zero": false}, "axis": null},
            "y": {"field": "a", "type": "quantitative", "scale": {"domain": [15.2, 100], "nice": false, "zero": false},
              "axis": {"orient": "right", "values": [25, 30, 35, 45, 50, 55, 65, 70, 75, 85, 90, 95], "grid": false, "labels": false, "tickSize": 4, "title": null}}
          }
        }
      ],
      "resolve": {"axis": {"x": "independent", "y": "independent"}}
    }
  ],
  "spacing": 20,
  "resolve": {"scale": {"color": "independent"}, "legend": {"color": "independent"}}
}
